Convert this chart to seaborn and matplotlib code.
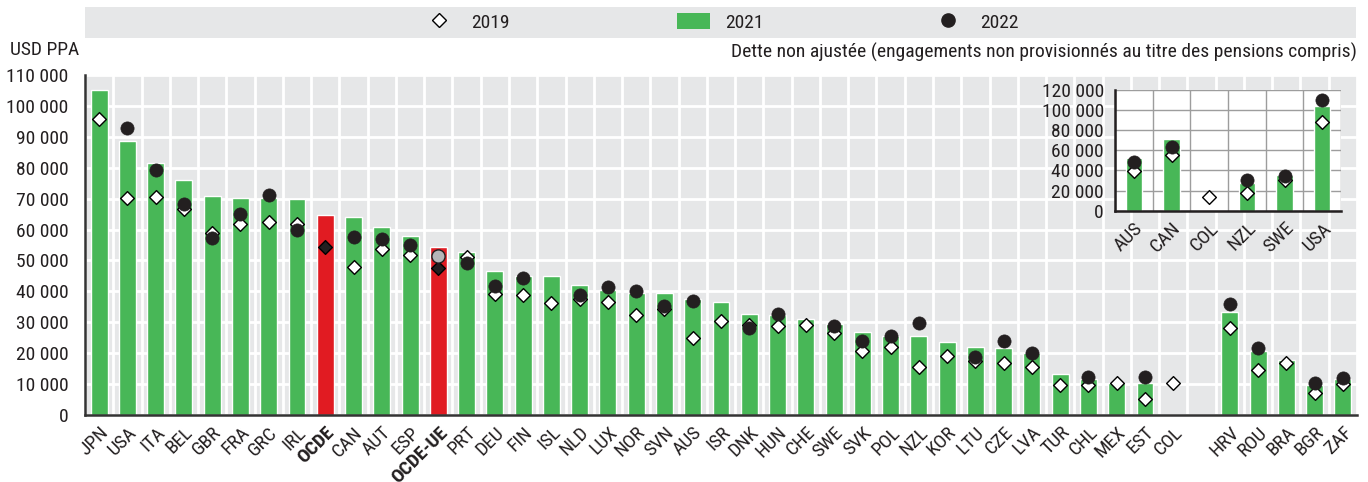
import numpy as np
import pandas as pd
import seaborn as sns
import matplotlib.pyplot as plt
from matplotlib import font_manager
from matplotlib.lines import Line2D
from matplotlib.patches import Patch

nan = np.nan

# Données (USD PPA, en milliers)
pays = ["JPN", "USA", "ITA", "BEL", "GBR", "FRA", "GRC", "IRL", "OCDE", "CAN", "AUT", "ESP",
        "OCDE-UE", "PRT", "DEU", "FIN", "ISL", "NLD", "LUX", "NOR", "SVN", "AUS", "ISR", "DNK",
        "HUN", "CHE", "SWE", "SVK", "POL", "NZL", "KOR", "LTU", "CZE", "LVA", "TUR", "CHL",
        "MEX", "EST", "COL", "HRV", "ROU", "BRA", "BGR", "ZAF"]
v2021 = [105.2, 88.7, 81.6, 76.1, 70.9, 70.2, 70.2, 69.9, 64.7, 64.1, 60.8, 57.9,
         54.4, 52.8, 46.6, 45.0, 45.0, 42.1, 40.5, 39.5, 39.4, 37.5, 36.6, 32.7,
         32.3, 31.0, 29.4, 26.9, 25.6, 25.6, 23.6, 22.0, 21.7, 20.1, 13.3, 11.7,
         10.2, 10.4, nan, 33.3, 20.7, 17.8, 9.7, 11.7]
v2019 = [95.7, 70.2, 70.6, 66.5, 58.9, 61.8, 62.5, 61.8, 54.2, 48.0, 53.7, 51.8,
         47.5, 51.1, 39.2, 38.9, 36.3, 37.4, 36.6, 32.4, 34.3, 24.9, 30.4, 29.1,
         28.9, 29.1, 26.4, 20.8, 21.9, 15.6, 19.2, 17.6, 16.9, 15.6, 9.8, 9.8,
         10.2, 5.3, 10.5, 28.0, 14.6, 16.9, 7.0, 10.0]
v2022 = [nan, 92.7, 79.3, 68.4, 57.2, 65.1, 71.2, 59.8, nan, 57.5, 57.0, 55.0,
         51.4, 49.3, 41.8, 44.4, nan, 38.8, 41.3, 40.1, 35.3, 37.0, nan, 28.1,
         32.7, nan, 28.9, 24.0, 25.6, 29.7, nan, 18.9, 24.0, 20.1, nan, 12.4,
         nan, 12.3, nan, 35.8, 21.8, nan, 10.4, 11.9]
agregats = ["OCDE", "OCDE-UE"]

# Encart : dette ajustée
encart_pays = ["AUS", "CAN", "COL", "NZL", "SWE", "USA"]
encart_2021 = [52.4, 71.3, nan, 27.6, 35.5, 104.2]
encart_2019 = [39.8, 55.4, 13.3, 17.3, 30.5, 88.0]
encart_2022 = [48.8, 63.7, nan, 30.5, 34.8, 110.1]

VERT = "#48b757"
ROUGE = "#e11b22"
FOND = "#e6e7e8"
TEXTE = "#231f20"

df = pd.DataFrame({"pays": pays,
                   "v2021": np.array(v2021) * 1000,
                   "v2019": np.array(v2019) * 1000,
                   "v2022": np.array(v2022) * 1000})
df["groupe"] = np.where(df["pays"].isin(agregats), "agg", "pays")
ordre = pays[:39] + [" "] + pays[39:]

enc = pd.DataFrame({"pays": encart_pays,
                    "v2021": np.array(encart_2021) * 1000,
                    "v2019": np.array(encart_2019) * 1000,
                    "v2022": np.array(encart_2022) * 1000})

sns.set_style("white")
noms = {f.name for f in font_manager.fontManager.ttflist}
police = "Liberation Sans"
for p in ["Roboto Condensed", "Liberation Sans Narrow", "Noto Sans Condensed",
          "Open Sans Condensed"]:
    if p in noms:
        police = p
        break
plt.rcParams["font.family"] = [police, "DejaVu Sans"]
plt.rcParams["text.color"] = TEXTE
plt.rcParams["xtick.color"] = TEXTE
plt.rcParams["ytick.color"] = TEXTE
FS = 14

W, H = 1368, 482
fig = plt.figure(figsize=(W / 100, H / 100), dpi=100)

# --- graphique principal ---
ax = fig.add_axes([85 / W, 1 - 415 / H, 1272 / W, 340 / H])
ax.set_facecolor(FOND)
sns.barplot(data=df, x="pays", y="v2021", hue="groupe", order=ordre,
            palette={"pays": VERT, "agg": ROUGE}, dodge=False, width=0.6,
            legend=False, saturation=1, ax=ax, zorder=2)
pts = df[df["groupe"] == "pays"]
ag = df[df["groupe"] == "agg"]
sns.stripplot(data=pts, x="pays", y="v2019", order=ordre, jitter=False, marker="D",
              size=7, color="white", edgecolor="black", linewidth=1, ax=ax, zorder=3)
sns.stripplot(data=ag, x="pays", y="v2019", order=ordre, jitter=False, marker="D",
              size=7, color="#231f20", edgecolor="black", linewidth=1, ax=ax, zorder=3)
sns.stripplot(data=pts, x="pays", y="v2022", order=ordre, jitter=False, marker="o",
              size=9.5, color="#231f20", edgecolor="#231f20", linewidth=0.5, ax=ax, zorder=4)
sns.stripplot(data=ag, x="pays", y="v2022", order=ordre, jitter=False, marker="o",
              size=9.5, color="#b5b6b8", edgecolor="#231f20", linewidth=1, ax=ax, zorder=4)

ax.set_xlim(-0.5, len(ordre) - 0.5)
ax.set_ylim(0, 110000)
ax.set_yticks(np.arange(0, 110001, 10000))
ax.set_yticklabels([f"{int(v):,}".replace(",", " ") for v in np.arange(0, 110001, 10000)],
                   fontsize=FS)
ax.set_xticks(range(len(ordre)))
ax.set_xticklabels(ordre, rotation=45, ha="right", rotation_mode="anchor", fontsize=FS)
for t in ax.get_xticklabels():
    if t.get_text() in agregats:
        t.set_fontweight("bold")
ax.set_xticks(np.arange(-0.5, len(ordre), 1), minor=True)
ax.tick_params(axis="x", which="major", length=0, pad=6)
ax.tick_params(axis="x", which="minor", direction="in", length=5, width=1, color="#555555")
ax.tick_params(axis="y", direction="in", length=6, width=1, pad=12, color="#555555")
ax.grid(True, axis="y", which="major", color="white", linewidth=2)
ax.grid(True, axis="x", which="minor", color="white", linewidth=2)
ax.set_axisbelow(True)
for s in ["top", "right"]:
    ax.spines[s].set_visible(False)
for s in ["left", "bottom"]:
    ax.spines[s].set_color("#333333")
    ax.spines[s].set_linewidth(1.8)
ax.set_xlabel("")
ax.set_ylabel("")

fig.text(10 / W, 1 - 50 / H, "USD PPA", fontsize=FS, va="center", ha="left")
fig.text(1357 / W, 1 - 52 / H,
         "Dette non ajustée (engagements non provisionnés au titre des pensions compris)",
         fontsize=FS, va="center", ha="right")

# --- encart ---
axi = fig.add_axes([1115 / W, 1 - 210.7 / H, 226 / W, 120.7 / H])
axi.set_facecolor("white")
sns.barplot(data=enc, x="pays", y="v2021", order=encart_pays, color=VERT, width=0.43,
            saturation=1, ax=axi, zorder=2)
sns.stripplot(data=enc, x="pays", y="v2019", order=encart_pays, jitter=False, marker="D",
              size=7, color="white", edgecolor="black", linewidth=1, ax=axi, zorder=3)
sns.stripplot(data=enc, x="pays", y="v2022", order=encart_pays, jitter=False, marker="o",
              size=9.5, color="#231f20", edgecolor="#231f20", linewidth=0.5, ax=axi, zorder=4)
axi.set_xlim(-0.5, len(encart_pays) - 0.5)
axi.set_ylim(0, 120000)
axi.set_yticks(np.arange(0, 120001, 20000))
axi.set_yticklabels([f"{int(v):,}".replace(",", " ") for v in np.arange(0, 120001, 20000)],
                    fontsize=FS)
axi.set_xticks(range(len(encart_pays)))
axi.set_xticklabels(encart_pays, rotation=45, ha="right", rotation_mode="anchor", fontsize=FS)
axi.set_xticks(np.arange(-0.5, len(encart_pays), 1), minor=True)
axi.tick_params(axis="x", which="major", length=0, pad=6)
axi.tick_params(axis="x", which="minor", direction="in", length=4, color="#231f20")
axi.tick_params(axis="y", direction="in", length=5, pad=8, color="#231f20")
axi.grid(True, axis="y", which="major", color="#9d9d9d", linewidth=1)
axi.grid(True, axis="x", which="minor", color="#9d9d9d", linewidth=1)
axi.set_axisbelow(True)
for s in ["top", "right"]:
    axi.spines[s].set_visible(False)
for s in ["left", "bottom"]:
    axi.spines[s].set_color("#231f20")
    axi.spines[s].set_linewidth(1.8)
axi.set_xlabel("")
axi.set_ylabel("")

# --- bandeau de légende ---
band = fig.add_axes([85 / W, 1 - 37.5 / H, 1271 / W, 30.5 / H])
band.set_facecolor(FOND)
band.set_xticks([])
band.set_yticks([])
for s in band.spines.values():
    s.set_visible(False)
poignees = [Line2D([], [], marker="D", linestyle="none", markersize=7,
                   markerfacecolor="white", markeredgecolor="black"),
            Patch(facecolor=VERT, edgecolor="none"),
            Line2D([], [], marker="o", linestyle="none", markersize=9.5,
                   markerfacecolor="#231f20", markeredgecolor="#231f20")]
band.legend(poignees, ["2019", "2021", "2022"], loc="center", ncol=3, frameon=False,
            fontsize=FS, handlelength=1.7, handleheight=0.9, handletextpad=0.8,
            columnspacing=8.6)

fig.savefig("out.png", dpi=100)
